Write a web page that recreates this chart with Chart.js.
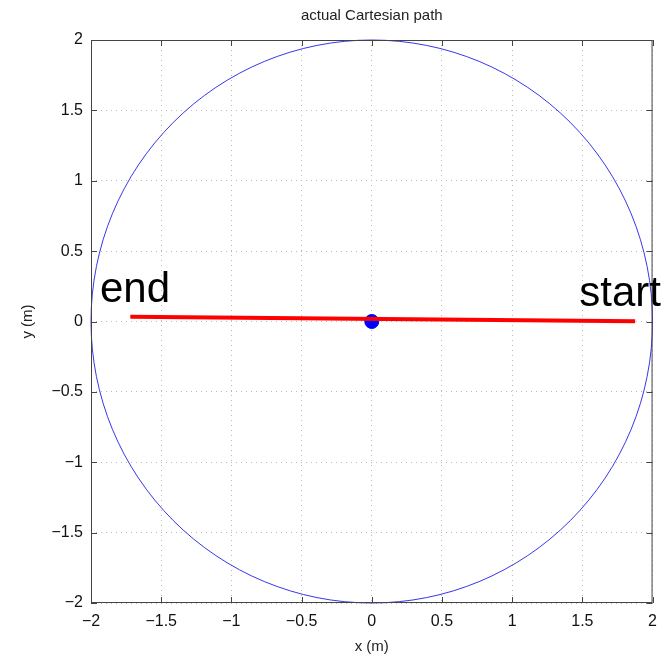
<!DOCTYPE html>
<html>
<head>
<meta charset="utf-8">
<script src="https://cdn.jsdelivr.net/npm/chart.js@4"></script>
<style>
  html, body { margin: 0; padding: 0; background: #fff; }
  #wrap { width: 666px; height: 657px; }
</style>
</head>
<body>
<div id="wrap"><canvas id="chart" width="666" height="657"></canvas></div>
<script>
const pathX = [-1.72, 1.876];
const pathY = [0.033, 0.002];
const robotX = [0];
const robotY = [0];
const reachCenter = [0, 0];
const reachRadius = 2;
const tickValues = [-2, -1.5, -1, -0.5, 0, 0.5, 1, 1.5, 2];
const noteText = ['end', 'start'];
const noteX = [-1.936, 1.478];
const noteY = [0.135, 0.107];

const FONT = '"Liberation Sans", Arial, sans-serif';
const fmtTick = v => String(v).replace('-', '\u2212');

// draws the reach circle, the box, inward ticks, notes and titles
const extras = {
  id: 'extras',
  beforeDatasetsDraw(chart) {
    const { ctx, scales: { x, y } } = chart;
    const cx = x.getPixelForValue(reachCenter[0]);
    const cy = y.getPixelForValue(reachCenter[1]);
    const rx = x.getPixelForValue(reachCenter[0] + reachRadius) - cx;
    const ry = cy - y.getPixelForValue(reachCenter[1] + reachRadius);
    ctx.save();
    ctx.strokeStyle = 'rgba(20,20,230,0.85)';
    ctx.lineWidth = 1;
    ctx.beginPath();
    ctx.ellipse(cx, cy, rx, ry, 0, 0, Math.PI * 2);
    ctx.stroke();
    ctx.restore();
  },
  afterDraw(chart) {
    const { ctx, chartArea: a, scales: { x, y } } = chart;
    ctx.save();
    ctx.strokeStyle = '#444';
    ctx.lineWidth = 1;
    ctx.strokeRect(a.left + 0.5, a.top + 0.5, a.right - a.left - 1, a.bottom - a.top - 1);
    ctx.beginPath();
    tickValues.forEach(v => {
      const px = Math.round(x.getPixelForValue(v)) + 0.5;
      ctx.moveTo(px, a.bottom); ctx.lineTo(px, a.bottom - 6);
      ctx.moveTo(px, a.top); ctx.lineTo(px, a.top + 6);
      const py = Math.round(y.getPixelForValue(v)) + 0.5;
      ctx.moveTo(a.left, py); ctx.lineTo(a.left + 6, py);
      ctx.moveTo(a.right, py); ctx.lineTo(a.right - 6, py);
    });
    ctx.stroke();

    ctx.fillStyle = '#000';
    ctx.textBaseline = 'alphabetic';
    ctx.textAlign = 'left';
    ctx.font = '42px ' + FONT;
    noteText.forEach((t, i) => {
      ctx.fillText(t, x.getPixelForValue(noteX[i]), y.getPixelForValue(noteY[i]));
    });

    ctx.fillStyle = '#222';
    ctx.textAlign = 'center';
    ctx.textBaseline = 'middle';
    ctx.font = '15px ' + FONT;
    ctx.fillText('actual Cartesian path', (a.left + a.right) / 2, 16);
    ctx.fillText('x (m)', (a.left + a.right) / 2, 647);
    ctx.translate(28, (a.top + a.bottom) / 2);
    ctx.rotate(-Math.PI / 2);
    ctx.fillText('y (m)', 0, 0);
    ctx.restore();
  }
};

const axis = (extra) => Object.assign({
  type: 'linear',
  min: -2,
  max: 2,
  afterBuildTicks: s => { s.ticks = tickValues.map(v => ({ value: v })); },
  grid: { color: '#bbb', lineWidth: 1, drawTicks: false, tickBorderDash: [1, 4] },
  border: { display: false, dash: [1, 4] },
  ticks: { autoSkip: false, maxRotation: 0, color: '#111', font: { family: FONT, size: 16 }, callback: fmtTick },
}, extra);

new Chart(document.getElementById('chart'), {
  type: 'scatter',
  data: {
    datasets: [
      {
        label: 'path',
        data: pathX.map((v, i) => ({ x: v, y: pathY[i] })),
        showLine: true,
        borderColor: '#ff0000',
        borderWidth: 4,
        pointRadius: 0,
      },
      {
        label: 'robot',
        data: robotX.map((v, i) => ({ x: v, y: robotY[i] })),
        backgroundColor: '#0000ff',
        borderColor: '#0000ff',
        pointRadius: 7,
      },
    ],
  },
  plugins: [extras],
  options: {
    responsive: false,
    animation: false,
    layout: { padding: { top: 40, right: 12, left: 0, bottom: 0 } },
    plugins: { legend: { display: false }, tooltip: { enabled: false }, title: { display: false } },
    scales: {
      x: axis({ position: 'bottom', ticks: { autoSkip: false, maxRotation: 0, padding: 9, color: '#111', font: { family: FONT, size: 16 }, callback: fmtTick }, afterFit: s => { s.height = 54; } }),
      y: axis({ position: 'left', ticks: { autoSkip: false, padding: 8, color: '#111', font: { family: FONT, size: 16 }, callback: fmtTick }, afterFit: s => { s.width = 91; } }),
    },
  },
});
</script>
</body>
</html>
